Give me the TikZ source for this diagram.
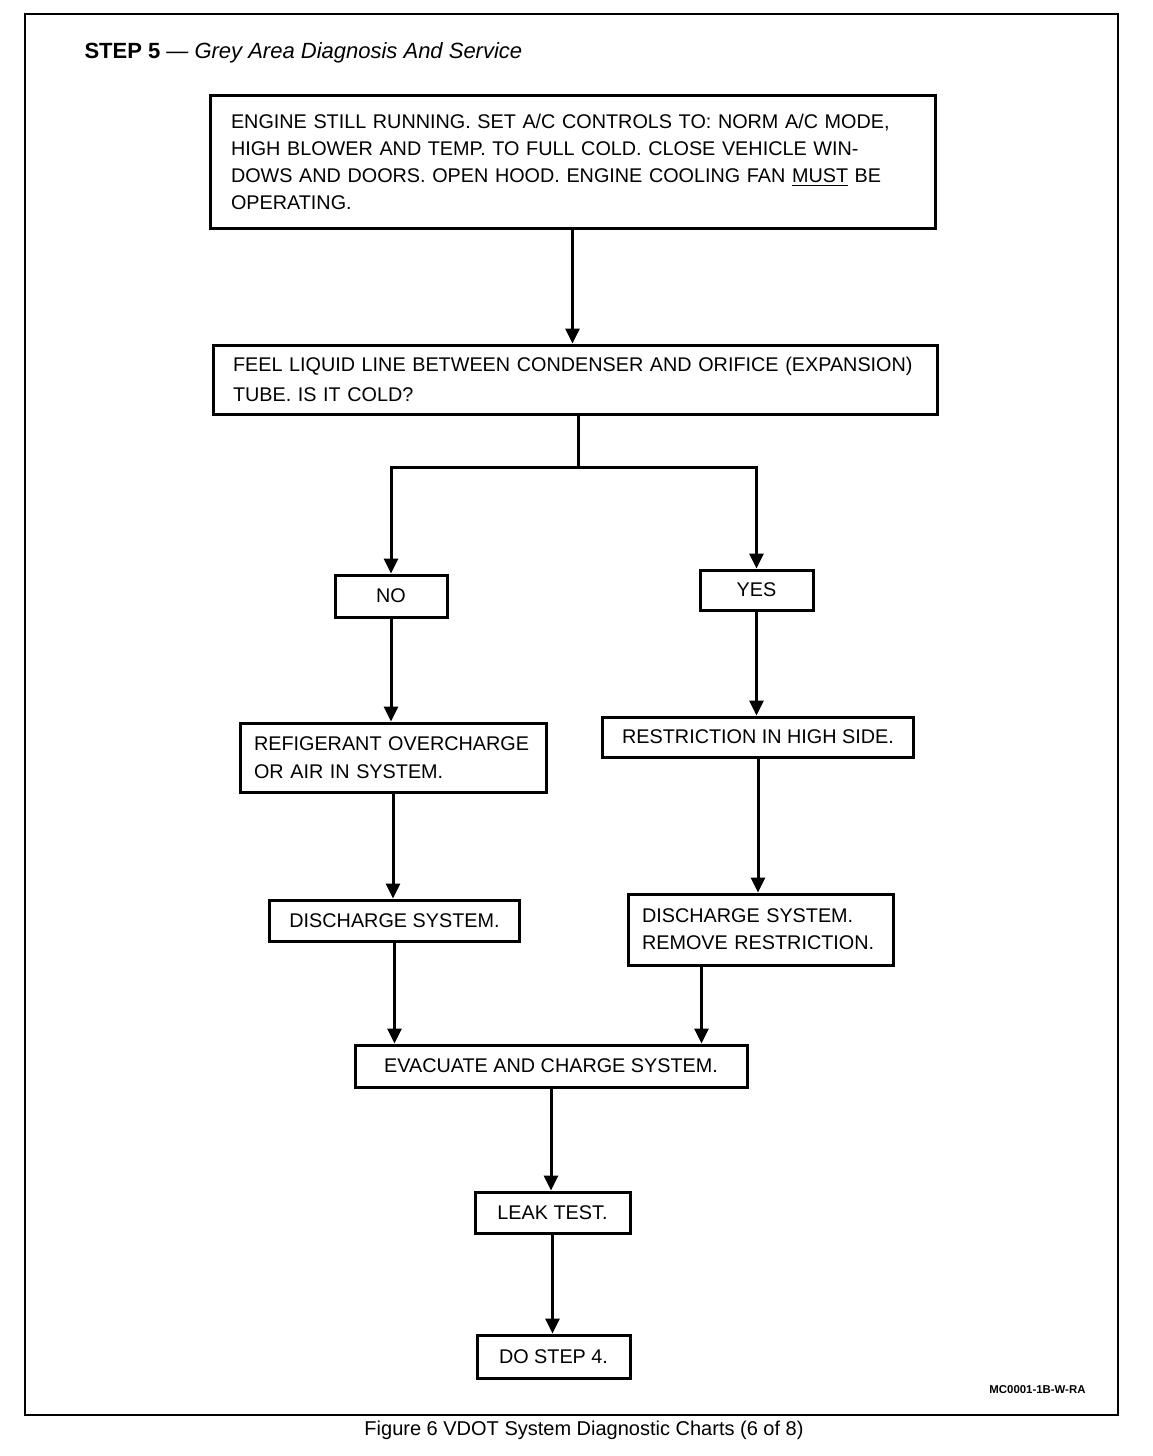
\documentclass[tikz,border=0pt]{standalone}
\usepackage{fontspec}
\setmainfont{Liberation Sans}
\usetikzlibrary{arrows.meta,calc}

\newcommand{\boxfont}{\fontsize{9.9}{13.5}\selectfont}

\tikzset{
  chart/.style={draw,line width=1.5pt,inner xsep=10pt,inner ysep=0pt,font=\boxfont},
  chartl/.style={chart,align=left},
  chartc/.style={chart,align=center}
}

\begin{document}
\begin{tikzpicture}[x=0.5pt,y=-0.5pt,->,>={Triangle[width=7pt,length=7.5pt]},line width=1.5pt]

  \fill[-,white] (0,0) rectangle (1152,1456);
  \useasboundingbox (0,0) rectangle (1152,1456);
  \draw[-,line width=1.2pt] (25,14) rectangle (1118,1415);

  \node[anchor=base west,inner sep=0pt,font=\fontsize{11}{13}\selectfont] (title) at (83,58)
    {\textbf{STEP 5} --- \textit{Grey Area Diagnosis And Service}};

  \node[chartl,inner xsep=10.5pt,text width=341.5pt,minimum height=66.5pt] (engine) at (572.5,161.5)
    {ENGINE STILL RUNNING. SET A/C CONTROLS TO: NORM A/C MODE,\\
     HIGH BLOWER AND TEMP. TO FULL COLD. CLOSE VEHICLE WIN-\\
     DOWS AND DOORS. OPEN HOOD. ENGINE COOLING FAN \underline{MUST} BE\\
     OPERATING.};
  \node[chartl,text width=342pt,minimum height=34.5pt,font=\fontsize{9.9}{15}\selectfont] (feel) at (575,379.5)
    {FEEL LIQUID LINE BETWEEN CONDENSER AND ORIFICE (EXPANSION)\\
     TUBE. IS IT COLD?};
  \node[chartc,minimum width=56pt,minimum height=21pt] (no) at (391,596) {NO};
  \node[chartc,minimum width=56.5pt,minimum height=20pt] (yes) at (756.5,590) {YES};
  \node[chartl,inner xsep=7pt,text width=139pt,minimum height=34.5pt,font=\fontsize{9.9}{14}\selectfont] (refr) at (393,757.5)
    {REFIGERANT OVERCHARGE\\ OR AIR IN SYSTEM.};
  \node[chartc,minimum width=154pt,minimum height=20pt] (restr) at (758,737)
    {RESTRICTION IN HIGH SIDE.};
  \node[chartc,minimum width=124.5pt,minimum height=20.5pt] (disL) at (394.5,920.5)
    {DISCHARGE SYSTEM.};
  \node[chartl,inner xsep=7pt,text width=118.5pt,minimum height=35.5pt] (disR) at (760.5,929.5)
    {DISCHARGE SYSTEM.\\ REMOVE RESTRICTION.};
  \node[chartc,minimum width=196pt,minimum height=21pt] (evac) at (551,1066)
    {EVACUATE AND CHARGE SYSTEM.};
  \node[chartc,minimum width=77.5pt,minimum height=20.5pt] (leak) at (552.5,1212.5)
    {LEAK TEST.};
  \node[chartc,minimum width=76.5pt,minimum height=21.5pt] (step4) at (553.5,1356.5)
    {DO STEP 4.};

  \node[anchor=base east,inner sep=0pt,font=\fontsize{5.7}{7}\selectfont\bfseries] (code) at (1087,1393)
    {MC0001-1B-W-RA};
  \node[anchor=base,font=\fontsize{10}{12}\selectfont] (caption) at (584,1435)
    {Figure 6 VDOT System Diagnostic Charts (6 of 8)};

  \coordinate (split) at (578,467);
  \coordinate (disRout) at ($(disR.south)+(-59,0)$);

  \draw (engine.south) -- (engine.south |- feel.north);
  \draw[-] (feel.south -| split) -- (split);
  \draw (split) -| (no.north);
  \draw (split) -| (yes.north);
  \draw (no.south) -- (no.south |- refr.north);
  \draw (yes.south) -- (yes.south |- restr.north);
  \draw (refr.south) -- (refr.south |- disL.north);
  \draw (restr.south) -- (restr.south |- disR.north);
  \draw (disL.south) -- (disL.south |- evac.north);
  \draw (disRout) -- (disRout |- evac.north);
  \draw (evac.south) -- (evac.south |- leak.north);
  \draw (leak.south) -- (leak.south |- step4.north);
\end{tikzpicture}
\end{document}
